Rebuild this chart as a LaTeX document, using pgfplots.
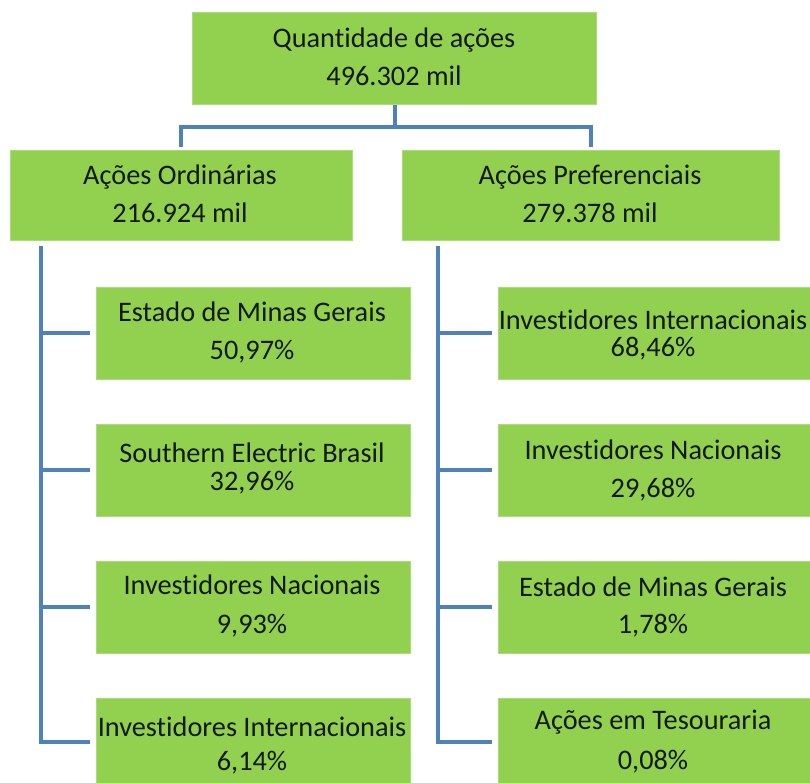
\documentclass[border=0pt]{standalone}
\usepackage{pgfplots}
\pgfplotsset{compat=1.18}
\usepackage{fontspec}
\setmainfont{Carlito}[Ligatures=NoCommon]
\definecolor{boxgreen}{RGB}{146,208,80}
\definecolor{boxedge}{RGB}{170,220,120}
\definecolor{linkblue}{RGB}{79,129,189}
\definecolor{txt}{RGB}{20,25,10}
\newcommand{\orgbox}[4]{\addplot[fill=boxgreen, draw=boxedge, line width=1pt] coordinates {(#1,#2) (#3,#2) (#3,#4) (#1,#4)} -- cycle;}
\begin{document}
\begin{tikzpicture}
\begin{axis}[
  scale only axis, width=810pt, height=783pt,
  xmin=0, xmax=810, ymin=0, ymax=783, y dir=reverse,
  hide axis, clip=true,
]
% connectors
\addplot[linkblue, line width=4.5pt] coordinates {(395,105) (395,127)};
\addplot[linkblue, line width=4.5pt] coordinates {(181,147) (181,127) (591,127) (591,147)};
\addplot[linkblue, line width=4.5pt] coordinates {(41,246) (41,742) (90,742)};
\addplot[linkblue, line width=4.5pt] coordinates {(41,333) (90,333)};
\addplot[linkblue, line width=4.5pt] coordinates {(41,470) (90,470)};
\addplot[linkblue, line width=4.5pt] coordinates {(41,607) (90,607)};
\addplot[linkblue, line width=4.5pt] coordinates {(438,246) (438,742) (492,742)};
\addplot[linkblue, line width=4.5pt] coordinates {(438,333) (492,333)};
\addplot[linkblue, line width=4.5pt] coordinates {(438,470) (492,470)};
\addplot[linkblue, line width=4.5pt] coordinates {(438,607) (492,607)};
% boxes
\orgbox{192}{13}{596}{105}
\orgbox{10}{151}{352}{241}
\orgbox{402}{151}{779}{241}
\orgbox{96}{287}{410}{379}
\orgbox{96}{424}{410}{516}
\orgbox{96}{561}{410}{653}
\orgbox{96}{698}{410}{790}
\orgbox{498}{287}{815}{379}
\orgbox{498}{424}{815}{516}
\orgbox{498}{561}{815}{653}
\orgbox{498}{698}{815}{790}
% text
\tikzset{every node/.style={text=txt, font=\fontsize{28.3}{31}\selectfont, inner sep=0pt}}
\node at (axis cs:394,40) {Quantidade de ações};
\node at (axis cs:394,76) {496.302 mil};
\node at (axis cs:180,177) {Ações Ordinárias};
\node at (axis cs:180,213) {216.924 mil};
\node at (axis cs:590,177) {Ações Preferenciais};
\node at (axis cs:590,213) {279.378 mil};
\node at (axis cs:252,312) {Estado de Minas Gerais};
\node at (axis cs:252,352) {50,97\%};
\node at (axis cs:252,453) {Southern Electric Brasil};
\node at (axis cs:252,483) {32,96\%};
\node at (axis cs:252,585) {Investidores Nacionais};
\node at (axis cs:252,626) {9,93\%};
\node at (axis cs:252,727) {Investidores Internacionais};
\node at (axis cs:252,763) {6,14\%};
\node at (axis cs:653,320) {Investidores Internacionais};
\node at (axis cs:653,349) {68,46\%};
\node at (axis cs:653,450) {Investidores Nacionais};
\node at (axis cs:653,490) {29,68\%};
\node at (axis cs:653,587) {Estado de Minas Gerais};
\node at (axis cs:653,626) {1,78\%};
\node at (axis cs:653,722) {Ações em Tesouraria};
\node at (axis cs:653,762) {0,08\%};
\end{axis}
\pgfresetboundingbox
\path[use as bounding box] (current axis.south west) rectangle (current axis.north east);
\end{tikzpicture}
\end{document}
